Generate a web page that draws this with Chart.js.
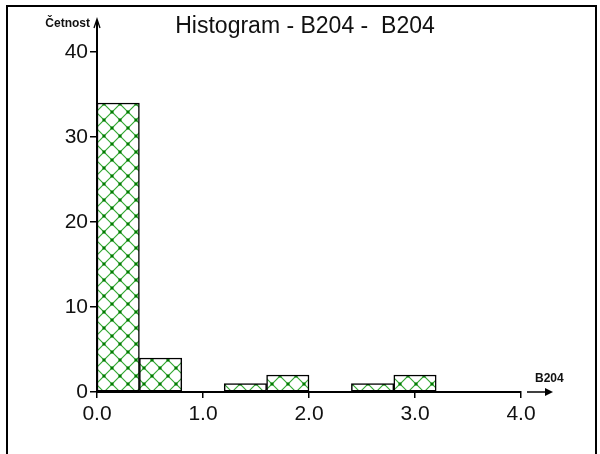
<!DOCTYPE html>
<html>
<head>
<meta charset="utf-8">
<script src="https://cdn.jsdelivr.net/npm/chart.js@4.4.0/dist/chart.umd.min.js"></script>
<style>
  html, body { margin: 0; padding: 0; background: #fff; }
</style>
</head>
<body>
<canvas id="mycanvas" width="600" height="454"></canvas>
<script>
// histogram bins (left edge of each bin) and counts
var binStarts = [0.0, 0.4, 1.2, 1.6, 2.4, 2.8];
var binWidth = 0.4;
var counts = [34, 4, 1, 2, 1, 2];

var xTicks = [0, 1, 2, 3, 4];
var yTicks = [0, 10, 20, 30, 40];

var titleText = 'Histogram - B204 -  B204';
var xName = 'B204';
var yName = 'Četnost';

// green cross-hatch fill for the bars
function hatch() {
  var c = document.createElement('canvas');
  c.width = 16;
  c.height = 16;
  var g = c.getContext('2d');
  g.fillStyle = '#fff';
  g.fillRect(0, 0, 16, 16);
  g.strokeStyle = '#33a833';
  g.lineWidth = 1.2;
  g.beginPath();
  g.moveTo(-2, -2); g.lineTo(18, 18);
  g.moveTo(18, -2); g.lineTo(-2, 18);
  g.stroke();
  g.fillStyle = '#007a00';
  [[0, 0], [16, 0], [0, 16], [16, 16], [8, 8]].forEach(function(p) {
    g.fillRect(p[0] - 1.5, p[1] - 1.5, 3, 3);
  });
  return g.createPattern(c, 'repeat');
}

var points = [];
for (var i = 0; i < binStarts.length; i++) {
  points.push({ x: binStarts[i] + binWidth / 2, y: counts[i] });
}

// frame, arrows, title and axis names
var decor = {
  id: 'decor',
  afterDraw: function(chart) {
    var ctx = chart.ctx;
    var a = chart.chartArea;
    ctx.save();
    ctx.strokeStyle = '#000';
    ctx.fillStyle = '#000';

    ctx.lineWidth = 2;
    ctx.beginPath();
    ctx.moveTo(7, 454); ctx.lineTo(7, 6); ctx.lineTo(596, 6); ctx.lineTo(596, 454);
    ctx.stroke();

    // y axis continues up to an arrow
    ctx.lineWidth = 2;
    ctx.beginPath();
    ctx.moveTo(a.left, a.top); ctx.lineTo(a.left, 20);
    ctx.stroke();
    ctx.lineWidth = 1.3;
    ctx.beginPath();
    ctx.moveTo(a.left - 3, 28); ctx.lineTo(a.left, 19); ctx.lineTo(a.left + 3, 28);
    ctx.stroke();

    // x arrow past the last tick
    ctx.lineWidth = 1.5;
    ctx.beginPath();
    ctx.moveTo(a.right + 6, a.bottom); ctx.lineTo(a.right + 26, a.bottom);
    ctx.stroke();
    ctx.beginPath();
    ctx.moveTo(a.right + 24, a.bottom - 4);
    ctx.lineTo(a.right + 32, a.bottom);
    ctx.lineTo(a.right + 24, a.bottom + 4);
    ctx.closePath();
    ctx.fill();

    ctx.font = '23px "Liberation Sans", Arial, sans-serif';
    ctx.textAlign = 'center';
    ctx.textBaseline = 'alphabetic';
    ctx.fillStyle = '#111';
    ctx.fillText(titleText, 305, 33);

    ctx.font = 'bold 12px "Liberation Sans", Arial, sans-serif';
    ctx.textAlign = 'right';
    ctx.fillText(yName, 90, 27);
    ctx.textAlign = 'left';
    ctx.fillText(xName, 535, 382);
    ctx.restore();
  }
};

var ctx = document.getElementById('mycanvas');

var histChart = new Chart(ctx, {
  type: 'bar',
  data: {
    datasets: [{
      label: titleText,
      data: points,
      backgroundColor: hatch(),
      borderColor: '#000',
      borderWidth: 1.5,
      borderSkipped: false,
      barPercentage: 1,
      categoryPercentage: 1
    }]
  },
  options: {
    responsive: false,
    animation: false,
    layout: { padding: { left: 0, top: 52, right: 79, bottom: 0 } },
    plugins: {
      legend: { display: false },
      tooltip: { enabled: false },
      title: { display: false }
    },
    scales: {
      x: {
        type: 'linear',
        min: 0,
        max: 4,
        offset: false,
        afterBuildTicks: function(s) {
          s.ticks = xTicks.map(function(v) { return { value: v }; });
        },
        afterFit: function(s) { s.height = 62; },
        border: { display: true, color: '#000', width: 2 },
        grid: { offset: false, drawOnChartArea: false, drawTicks: true, tickLength: 6, color: '#000', lineWidth: 1.5 },
        ticks: {
          padding: 4,
          color: '#111',
          font: { family: '"Liberation Sans", Arial, sans-serif', size: 21 },
          callback: function(v) { return Number(v).toFixed(1); }
        }
      },
      y: {
        min: 0,
        max: 40,
        afterBuildTicks: function(s) {
          s.ticks = yTicks.map(function(v) { return { value: v }; });
        },
        afterFit: function(s) { s.width = 97; },
        border: { display: true, color: '#000', width: 2 },
        grid: { drawOnChartArea: false, drawTicks: true, tickLength: 7, color: '#000', lineWidth: 1.5 },
        ticks: {
          padding: 2,
          color: '#111',
          font: { family: '"Liberation Sans", Arial, sans-serif', size: 21 }
        }
      }
    }
  },
  plugins: [decor]
});
</script>
</body>
</html>
